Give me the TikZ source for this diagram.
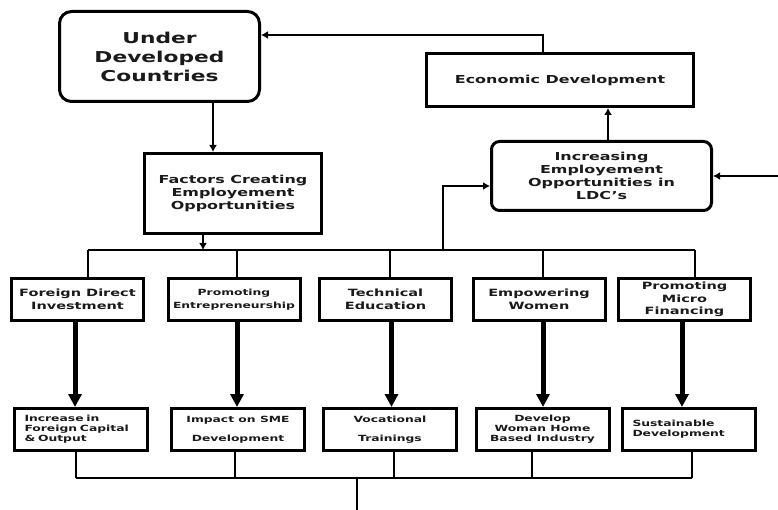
\documentclass[tikz,border=0pt]{standalone}
\usepackage{fontspec}
\setsansfont{DejaVu Sans}[FakeStretch=1.45]
\usepackage{tikz}
\usetikzlibrary{arrows.meta}
\definecolor{inkcolor}{HTML}{1A1A1A}
\tikzstyle{anybox} = [
    draw=black,
    line width=3pt,
    rectangle,
    align=center,
    text=inkcolor
    ]
\tikzstyle{udcbox} = [
    anybox,
    rounded corners=12pt,
    minimum width=200pt,
    minimum height=90pt,
    font=\fontsize{15}{19}\selectfont\sffamily\bfseries
    ]
\tikzstyle{midbox} = [
    anybox,
    font=\fontsize{11}{12.8}\selectfont\sffamily\bfseries
    ]
\tikzstyle{topbox} = [
    anybox,
    minimum width=132pt,
    minimum height=42pt,
    inner xsep=2pt,
    font=\fontsize{10}{12.5}\selectfont\sffamily\bfseries
    ]
\tikzstyle{lowbox} = [
    anybox,
    minimum width=133pt,
    minimum height=42pt,
    font=\fontsize{8.5}{10}\selectfont\sffamily\bfseries
    ]
\tikzstyle{lowleft} = [
    text width=113pt,
    inner xsep=10pt,
    align=left
    ]
\tikzstyle{link} = [line width=1.8pt]
\tikzstyle{tip} = [-{Latex[length=7pt,width=8pt]}]
\tikzstyle{down} = [line width=5pt, -{Triangle[length=13pt,width=13pt]}]

\begin{document}
\begin{tikzpicture}[x=1pt,y=-1pt]
\useasboundingbox (0,0) rectangle (778,510);

\node[udcbox] (udc) at (159.5,56.5) {Under\\Developed\\Countries};
\node[midbox, minimum width=267pt, minimum height=53pt] (econ) at (560,80) {Economic Development};
\node[midbox, rounded corners=8pt, minimum width=220pt, minimum height=69pt] (incr) at (601.5,176) {Increasing\\Employement\\Opportunities in\\LDC's};
\node[midbox, minimum width=177pt, minimum height=80pt] (factors) at (233,193.5) {Factors Creating\\Employement\\Opportunities};

% factors
\node[topbox] (fdi) at (77.5,299.5) {Foreign Direct\\Investment};
\node[topbox, font=\fontsize{8.5}{12.5}\selectfont\sffamily\bfseries] (entr) at (234,299.5) {Promoting\\Entrepreneurship};
\node[topbox] (tech) at (385.5,299.5) {Technical\\Education};
\node[topbox] (women) at (539,299.5) {Empowering\\Women};
\node[topbox] (micro) at (684.5,299.5) {Promoting\\Micro\\Financing};

% results
\node[lowbox, lowleft] (capital) at (81,429.5) {Increase in\\Foreign Capital\\\& Output};
\node[lowbox] (sme) at (238,429.5) {Impact on SME\\[9pt]Development};
\node[lowbox] (voc) at (390,429.5) {Vocational\\[9pt]Trainings};
\node[lowbox] (home) at (542.5,429.5) {Develop\\Woman Home\\Based Industry};
\node[lowbox, lowleft] (sust) at (689,429.5) {Sustainable\\Development};

\coordinate (busL) at (88,250);
\coordinate (busR) at (695,250);
\coordinate (feed) at (443,250);
\coordinate (side) at (778,176);
\coordinate (lowL) at (76,478);
\coordinate (lowR) at (692,478);
\coordinate (out) at (357,510);

\draw[link, line width=2.6pt, tip] ([xshift=53.5pt]udc.south) -- ([xshift=53.5pt]udc.south |- factors.north);
\draw[link, tip] ([xshift=-17pt]econ.north) |- ([yshift=21.5pt]udc.east);
\draw[link, line width=2.6pt, tip] ([xshift=6.5pt]incr.north) -- ([xshift=6.5pt]incr.north |- econ.south);
\draw[link, tip] (side) -- (incr.east);
\draw[link, tip] (feed) |- ([yshift=-10pt]incr.west);

\draw[link] (busL) -- (busR);
\draw[link, tip] ([xshift=-30pt]factors.south) -- ([xshift=-30pt]factors.south |- busL);
\draw[link] (busL) -- (busL |- fdi.north);
\draw[link] ([xshift=3pt]entr.north |- busL) -- ([xshift=3pt]entr.north);
\draw[link] ([xshift=4.5pt]tech.north |- busL) -- ([xshift=4.5pt]tech.north);
\draw[link] ([xshift=4pt]women.north |- busL) -- ([xshift=4pt]women.north);
\draw[link] (busR) -- (busR |- micro.north);

\draw[down] ([xshift=-2.5pt]fdi.south) -- ([xshift=-2.5pt]fdi.south |- capital.north);
\draw[down] ([xshift=3pt]entr.south) -- ([xshift=3pt]entr.south |- sme.north);
\draw[down] ([xshift=6pt]tech.south) -- ([xshift=6pt]tech.south |- voc.north);
\draw[down] ([xshift=4pt]women.south) -- ([xshift=4pt]women.south |- home.north);
\draw[down] ([xshift=-2.5pt]micro.south) -- ([xshift=-2.5pt]micro.south |- sust.north);

\draw[link] (lowL) -- (lowR);
\draw[link] ([xshift=-5pt]capital.south) -- ([xshift=-5pt]capital.south |- lowL);
\draw[link] ([xshift=-3pt]sme.south) -- ([xshift=-3pt]sme.south |- lowL);
\draw[link] ([xshift=4pt]voc.south) -- ([xshift=4pt]voc.south |- lowL);
\draw[link] ([xshift=-10.5pt]home.south) -- ([xshift=-10.5pt]home.south |- lowL);
\draw[link] ([xshift=3pt]sust.south) -- ([xshift=3pt]sust.south |- lowL);
\draw[link] (out |- lowL) -- (out);
\end{tikzpicture}
\end{document}
